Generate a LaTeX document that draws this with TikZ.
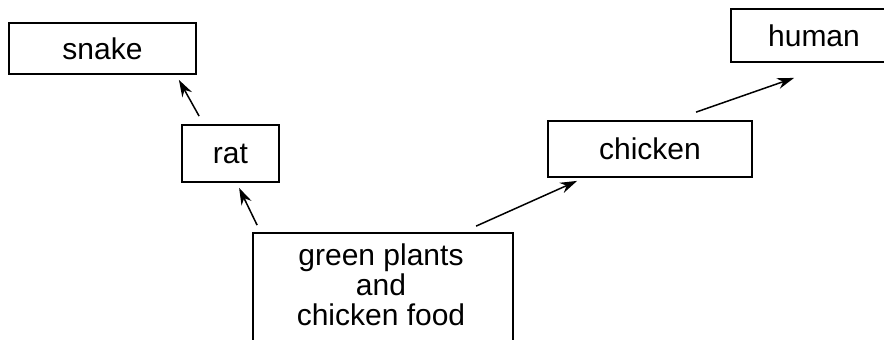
\documentclass[tikz,border=0pt]{standalone}
\usepackage{fontspec}
\setmainfont{Liberation Sans}
\usetikzlibrary{calc,arrows.meta}
\begin{document}
\begin{tikzpicture}[x=0.5pt,y=-0.5pt,
  box/.style={draw,line width=0.9pt,inner sep=0pt,font=\fontsize{15}{15}\selectfont},
  lbl/.style={inner sep=0pt,align=center,font=\fontsize{15}{15}\selectfont},
  arr/.style={line width=0.75pt,-{Stealth[length=8.5pt,width=5.5pt]}}]
\useasboundingbox (0,0) rectangle (884,339);
\clip (0,0) rectangle (884,339);
\node[box,minimum width=93.5pt,minimum height=25.5pt] (snake) at (102.5,48.5) {snake};
\node[box,minimum width=48.5pt,minimum height=28.5pt] (rat) at (230.5,153.5) {rat};
\node[box,minimum width=102pt,minimum height=28pt] (chicken) at (650,149) {chicken};
\node[box,minimum width=83pt,minimum height=26.5pt] (human) at (814,35.5) {human};
\node[box,minimum width=130pt,minimum height=56pt] (green) at (383,289) {};
\node[lbl] (greentext) at (381,285) {green plants\\and\\chicken food};
\draw[arr] ($(rat.north west)+(18,-8)$) -- ($(snake.south east)+(-18,5)$);
\draw[arr] ($(green.north west)+(5,-7)$) -- ($(rat.south west)+(58,5)$);
\draw[arr] ($(green.north west)+(224,-6)$) -- ($(chicken.south west)+(30,3)$);
\draw[arr] ($(chicken.north west)+(149,-8)$) -- ($(human.south west)+(64,15)$);
\end{tikzpicture}
\end{document}
